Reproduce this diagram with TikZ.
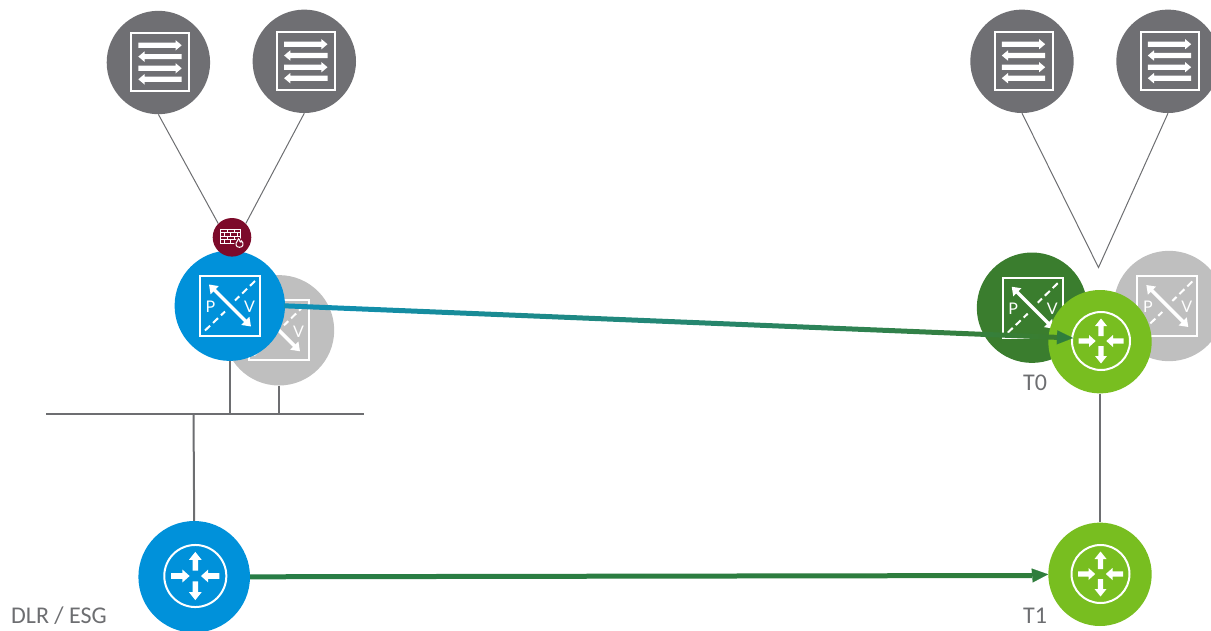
\documentclass[tikz,border=0pt]{standalone}
\usepackage{fontspec}
\setmainfont{Carlito}
\newfontfamily\iconfont{Lato}
\usetikzlibrary{arrows.meta,calc}
\definecolor{srvgray}{HTML}{6F6F73}
\definecolor{linegray}{HTML}{6D6E71}
\definecolor{ghost}{HTML}{BFBFBF}
\definecolor{vblue}{HTML}{0091DA}
\definecolor{vlime}{HTML}{78BE20}
\definecolor{vdark}{HTML}{3A7D2E}
\definecolor{vred}{HTML}{7C0A2A}
\definecolor{linkteal}{HTML}{0E90B8}
\definecolor{linkgreen}{HTML}{2F7D3C}
\tikzset{
  disc/.style={circle,fill=#1,draw=none,inner sep=0pt,minimum size=110.4pt},
  srvdisc/.style={circle,fill=srvgray,draw=none,inner sep=0pt,minimum size=103.4pt},
  rtrdisc/.style={circle,fill=#1,draw=none,inner sep=0pt,minimum size=103.4pt},
  thin link/.style={draw=linegray,line width=1pt},
  bus link/.style={draw=linegray,line width=2pt},
  head link/.style={draw=linkgreen,line width=0.1pt,-{Triangle[length=16pt,width=14pt,fill=linkgreen]}},
  caption/.style={anchor=base west,inner sep=0pt,text=linegray,font=\fontsize{24}{24}\selectfont},
  pvlabel/.style={inner sep=0pt,text=white,font=\iconfont\fontsize{16}{16}\selectfont},
  pics/servericon/.style={code={
    \draw[white,line width=2pt] (-29,-29) rectangle (29,29);
    \foreach \yy/\ss in {-17/1,-5.7/-1,6/1,17/-1}{
      \fill[white,xscale=\ss] (-21.7,\yy-2.6) -- (15.5,\yy-2.6) -- (15.5,\yy-5.2) -- (21.7,\yy) -- (15.5,\yy+5.2) -- (15.5,\yy+2.6) -- (-21.7,\yy+2.6) -- cycle;
    }
  }},
  pics/switchicon/.style={code={
    \draw[white,line width=2pt] (-30,-30) rectangle (30,30);
    \draw[white,line width=2pt,dash pattern=on 7pt off 4pt] (-25,25) -- (-5,6);
    \draw[white,line width=2pt,dash pattern=on 7pt off 4pt] (25,-24.5) -- (5,-5);
    \draw[white,line width=3.5pt,{Triangle[length=8pt,width=11pt]}-{Triangle[length=8pt,width=11pt]}] (-21,-21) -- (21,21);
    \node[pvlabel] (p) at (-19.5,1) {P};
    \node[pvlabel] (v) at (19.5,1) {V};
  }},
  pics/routericon/.style={code={
    \draw[white,line width=2pt] (0,0) circle (29);
    \foreach \aa in {0,180}{
      \fill[white,rotate=\aa] (-2.6,-5) -- (-2.6,-15) -- (-6,-15) -- (0,-22.5) -- (6,-15) -- (2.6,-15) -- (2.6,-5) -- cycle;
      \fill[white,rotate=\aa] (-22.5,-2.6) -- (-12,-2.6) -- (-12,-6) -- (-5.3,0) -- (-12,6) -- (-12,2.6) -- (-22.5,2.6) -- cycle;
    }
  }},
  pics/firewallicon/.style={code={
    \draw[white,line width=0.8pt] (-11.3,-8) rectangle (8,6);
    \foreach \yy in {-4.5,-1,2.5}{\draw[white,line width=0.7pt] (-11.3,\yy) -- (8,\yy);}
    \foreach \xx in {-5,2}{\draw[white,line width=0.7pt] (\xx,-8) -- (\xx,-4.5) (\xx,-1) -- (\xx,2.5);}
    \foreach \xx in {-8,-1.5,5}{\draw[white,line width=0.7pt] (\xx,-4.5) -- (\xx,-1) (\xx,2.5) -- (\xx,6);}
    \fill[vred] (7.5,6) circle (5.2);
    \draw[white,line width=1pt] (5.5,3.5) .. controls (3,6) and (3.5,10) .. (7.5,10) .. controls (11.5,10) and (12,6) .. (9.5,3.5) .. controls (9,5) and (8.5,5) .. (8,4.5) .. controls (8,3) and (7.5,2) .. (6.5,1.5) .. controls (6.8,2.5) and (6.3,3) .. (5.5,3.5) -- cycle;
  }}
}
\begin{document}
\begin{tikzpicture}[x=1pt,y=-1pt]
\useasboundingbox (0,0) rectangle (1211,630);

% servers
\node[srvdisc] (srvA) at (158.4,62.5) {};
\node[srvdisc] (srvB) at (304.3,61.3) {};
\node[srvdisc] (srvC) at (1022,61.3) {};
\node[srvdisc] (srvD) at (1168,61.3) {};
\pic (iconA) at (160,62.3) {servericon};
\pic (iconB) at (305.8,61.2) {servericon};
\pic (iconC) at (1023.5,61.2) {servericon};
\pic (iconD) at (1169.5,61.2) {servericon};

% named positions for the free ends
\coordinate (apex) at (1098.5,267.5);
\coordinate (t0tip) at (1073,338);
\coordinate (linkstart) at (284,305.8);
\coordinate (t0neck) at (1058,337.4);
\coordinate (t1neck) at (1032,575.5);

% switches and firewall
\node[disc=ghost] (swGhostL) at (279,330.3) {};
\pic (iconGL) at (279,330.3) {switchicon};
\node[disc=vblue] (swBlue) at (229.8,305.7) {};
\pic (iconBL) at (230,305.5) {switchicon};
\node[circle,fill=vred,inner sep=0pt,minimum size=38.6pt] (fw) at (232,237.3) {};
\pic (iconFW) at (232,237.3) {firewallicon};

\node[disc=ghost] (swGhostR) at (1169,306) {};
\pic (iconGR) at (1167.3,306) {switchicon};
\node[disc=vdark] (swDark) at (1032,307.7) {};
\pic (iconDK) at (1032.7,307.7) {switchicon};

% routers
\node[rtrdisc=vlime] (rtrT0) at (1100,341.7) {};
\pic (iconT0) at (1101,341) {routericon};
\node[rtrdisc=vlime] (rtrT1) at (1100,574.3) {};
\pic (iconT1) at (1100.5,574) {routericon};
\node[circle,fill=vblue,draw=none,inner sep=0pt,minimum size=111.6pt] (rtrBlue) at (194.2,576.8) {};
\pic[scale=1.07] (iconRB) at (195.3,576) {routericon};

% bus
\coordinate (busL) at (46,413.5);
\coordinate (busR) at (364,413.5);
\draw[bus link] (busL) -- (busR);
\draw[bus link] (swBlue.south) -- (swBlue.south |- busL);
\draw[bus link] (swGhostL.south) -- (swGhostL.south |- busL);
\draw[bus link] (rtrBlue.north) -- (193.5,413.5);
\draw[bus link] (rtrT0.south) -- (rtrT1.north);

% thin links
\draw[thin link] (srvA.south) -- (fw.135);
\draw[thin link] (srvB.south) -- (fw.45);
\draw[thin link] (srvC.south) -- (apex) -- (srvD.south);

% long links
\shade[left color=linkteal,right color=vdark,draw=none]
  ($(linkstart)+(0,-2.5)$) -- ($(t0neck)+(0,-2.5)$) -- ($(t0neck)+(0,2.5)$) -- ($(linkstart)+(0,2.5)$) -- cycle;
\draw[head link] (t0neck) -- (t0tip);
\shade[left color=linkgreen!85!teal,right color=linkgreen,draw=none]
  ($(rtrBlue.east)+(0,-2.5)$) -- ($(t1neck)+(0,-2.5)$) -- ($(t1neck)+(0,2.5)$) -- ($(rtrBlue.east)+(0,2.5)$) -- cycle;
\draw[head link] (t1neck) -- (rtrT1.west);

% captions
\node[caption] (capT0) at (1023,390.7) {T0};
\node[caption] (capT1) at (1023,623) {T1};
\node[caption] (capDLR) at (11,623) {DLR / ESG};
\end{tikzpicture}
\end{document}
